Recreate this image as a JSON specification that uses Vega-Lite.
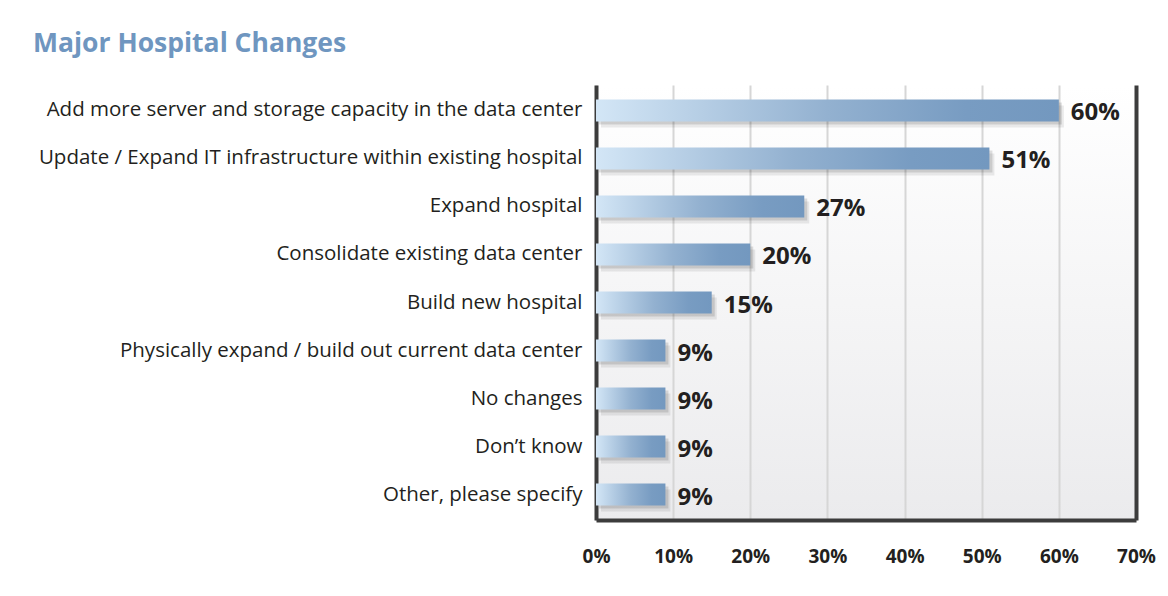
{
  "$schema": "https://vega.github.io/schema/vega-lite/v6.json",
  "width": 540,
  "height": 435,
  "autosize": {"type": "none"},
  "padding": {"left": 596, "top": 85, "right": 32, "bottom": 76},
  "background": "#ffffff",
  "title": {
    "text": "Major Hospital Changes",
    "anchor": "start",
    "frame": "group",
    "dx": -563,
    "offset": 7,
    "baseline": "alphabetic",
    "font": "Open Sans",
    "fontSize": 26.5,
    "fontWeight": "bold",
    "color": "#6f96c0"
  },
  "data": {
    "values": [
      {"item": "Add more server and storage capacity in the data center", "pct": 60},
      {"item": "Update / Expand IT infrastructure within existing hospital", "pct": 51},
      {"item": "Expand hospital", "pct": 27},
      {"item": "Consolidate existing data center", "pct": 20},
      {"item": "Build new hospital", "pct": 15},
      {"item": "Physically expand / build out current data center", "pct": 9},
      {"item": "No changes", "pct": 9},
      {"item": "Don’t know", "pct": 9},
      {"item": "Other, please specify", "pct": 9}
    ]
  },
  "encoding": {
    "y": {
      "field": "item",
      "type": "nominal",
      "sort": null,
      "scale": {"paddingInner": 0.54, "paddingOuter": 0.3},
      "axis": {
        "title": null,
        "ticks": false,
        "domain": true,
        "domainColor": "#3c3c3c",
        "domainWidth": 4,
        "labelFont": "Open Sans",
        "labelFontSize": 20.5,
        "labelColor": "#231f20",
        "labelPadding": 14,
        "labelLimit": 700,
        "grid": false
      }
    },
    "x": {
      "field": "pct",
      "type": "quantitative",
      "scale": {"domain": [0, 70], "nice": false},
      "axis": {
        "title": null,
        "values": [0, 10, 20, 30, 40, 50, 60, 70],
        "labelExpr": "datum.value + '%'",
        "ticks": false,
        "domain": true,
        "domainColor": "#3c3c3c",
        "domainWidth": 4,
        "grid": true,
        "gridColor": {"condition": {"test": "datum.value === 70", "value": "#3c3c3c"}, "value": "#d6d6d6"},
        "gridWidth": {"condition": {"test": "datum.value === 70", "value": 4}, "value": 2},
        "labelFont": "Open Sans",
        "labelFontSize": 19,
        "labelFontWeight": "bold",
        "labelColor": "#231f20",
        "labelPadding": 27,
        "labelFlush": false
      }
    }
  },
  "layer": [
    {
      "mark": {"type": "bar", "color": "#000000", "opacity": 0.08, "xOffset": 5, "yOffset": 6}
    },
    {
      "mark": {"type": "bar", "color": "#000000", "opacity": 0.12, "xOffset": 3, "yOffset": 3}
    },
    {
      "mark": {
        "type": "bar",
        "color": {
          "gradient": "linear",
          "x1": 0, "y1": 0, "x2": 1, "y2": 0,
          "stops": [
            {"offset": 0, "color": "#d3e6f6"},
            {"offset": 0.5, "color": "#93b1d0"},
            {"offset": 0.8, "color": "#789cc2"},
            {"offset": 1, "color": "#7398bf"}
          ]
        }
      }
    },
    {
      "mark": {
        "type": "text",
        "align": "left",
        "baseline": "middle",
        "dx": 12,
        "dy": 3,
        "font": "Open Sans",
        "fontSize": 24,
        "fontWeight": "bold",
        "color": "#231f20",
        "text": {"expr": "datum.pct + '%'"}
      }
    }
  ],
  "config": {
    "view": {
      "stroke": null,
      "fill": {
        "gradient": "linear",
        "x1": 0, "y1": 0, "x2": 0, "y2": 1,
        "stops": [
          {"offset": 0, "color": "#ffffff"},
          {"offset": 1, "color": "#ebebed"}
        ]
      }
    }
  }
}
